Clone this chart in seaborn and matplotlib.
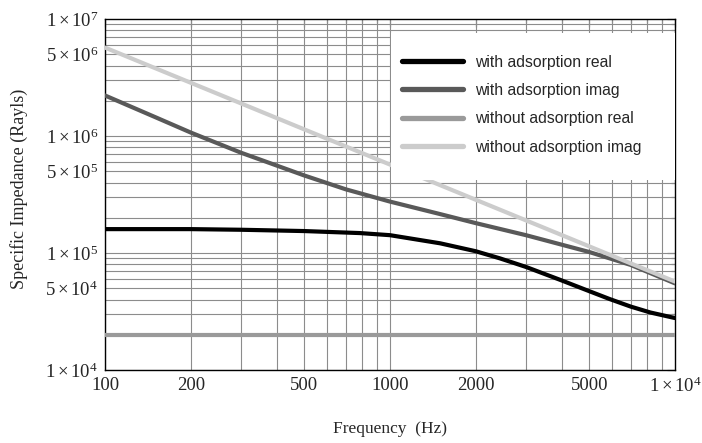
import numpy as np
import pandas as pd
import matplotlib
matplotlib.use('Agg')
import matplotlib.pyplot as plt
from matplotlib.patches import Rectangle
from matplotlib.lines import Line2D
import seaborn as sns

# values
freq_real_ads = [100, 200, 300, 500, 785, 1000, 1500, 2000, 2430, 3000, 3950, 5000, 5900, 7000, 8200, 10000]
z_real_ads = [1.60e5, 1.60e5, 1.58e5, 1.54e5, 1.48e5, 1.42e5, 1.21e5, 1.035e5, 9.0e4, 7.6e4, 5.9e4,
              4.72e4, 4.04e4, 3.48e4, 3.10e4, 2.78e4]
freq_imag_ads = [100, 150, 200, 300, 500, 700, 1000, 1500, 2000, 3000, 5000, 7000, 10000]
z_imag_ads = [2.22e6, 1.45e6, 1.07e6, 7.2e5, 4.6e5, 3.5e5, 2.75e5, 2.15e5, 1.8e5, 1.42e5, 1.02e5, 7.9e4, 5.5e4]
freq_real_free = [100, 10000]
z_real_free = [2.0e4, 2.0e4]
freq_imag_free = [100, 1000, 10000]
z_imag_free = [5.7e6, 5.7e5, 5.7e4]

series_names = ['with adsorption real', 'with adsorption imag',
                'without adsorption real', 'without adsorption imag']
series_colors = ['#000000', '#595959', '#9a9a9a', '#cccccc']

xtick_vals = [100, 200, 500, 1000, 2000, 5000, 10000]
xtick_labels = ['100', '200', '500', '1000', '2000', '5000', r'$1\times10^{4}$']
ytick_vals = [1e4, 5e4, 1e5, 5e5, 1e6, 5e6, 1e7]
ytick_labels = [r'$1\times10^{4}$', r'$5\times10^{4}$', r'$1\times10^{5}$', r'$5\times10^{5}$',
                r'$1\times10^{6}$', r'$5\times10^{6}$', r'$1\times10^{7}$']

df = pd.concat([
    pd.DataFrame({'freq': freq_real_ads, 'Z': z_real_ads, 'series': series_names[0]}),
    pd.DataFrame({'freq': freq_imag_ads, 'Z': z_imag_ads, 'series': series_names[1]}),
    pd.DataFrame({'freq': freq_real_free, 'Z': z_real_free, 'series': series_names[2]}),
    pd.DataFrame({'freq': freq_imag_free, 'Z': z_imag_free, 'series': series_names[3]}),
])

sns.set_style('white')
plt.rcParams['font.family'] = ['Liberation Serif', 'DejaVu Serif']
plt.rcParams['mathtext.fontset'] = 'custom'
plt.rcParams['mathtext.rm'] = 'Liberation Serif'
plt.rcParams['mathtext.it'] = 'Liberation Serif:italic'

fig = plt.figure(figsize=(7.02, 4.43), dpi=100)
ax = fig.add_axes([105 / 702, 1 - 370 / 443, 570 / 702, 351 / 443])

sns.lineplot(data=df, x='freq', y='Z', hue='series', hue_order=series_names,
             palette=series_colors, lw=3, legend=False, ax=ax, zorder=3)

ax.set_xscale('log')
ax.set_yscale('log')
ax.set_xlim(100, 10000)
ax.set_ylim(1e4, 1e7)

# grid on every 1..9 x 10^k
xgrid = [m * 10 ** k for k in (2, 3) for m in range(1, 10)]
ygrid = [m * 10 ** k for k in (4, 5, 6) for m in range(1, 10)]
for g in xgrid:
    ax.axvline(g, color='#8c8c8c', lw=0.8, zorder=1)
for g in ygrid:
    ax.axhline(g, color='#8c8c8c', lw=0.8, zorder=1)

ax.set_xticks(xtick_vals)
ax.set_xticklabels(xtick_labels)
ax.set_yticks(ytick_vals)
ax.set_yticklabels(ytick_labels)
ax.xaxis.set_minor_locator(matplotlib.ticker.FixedLocator(xgrid))
ax.yaxis.set_minor_locator(matplotlib.ticker.FixedLocator(ygrid))
ax.xaxis.set_minor_formatter(matplotlib.ticker.NullFormatter())
ax.yaxis.set_minor_formatter(matplotlib.ticker.NullFormatter())
ax.tick_params(which='both', direction='in', top=True, right=True, labelsize=13.5, color='black')
ax.tick_params(which='major', length=6, width=0.8, pad=5)
ax.tick_params(which='minor', length=3, width=0.8)
for s in ax.spines.values():
    s.set_color('black')
    s.set_linewidth(1.0)

ax.set_xlabel('Frequency  (Hz)', fontsize=12.5)
ax.set_ylabel('Specific Impedance (Rayls)', fontsize=13)
ax.xaxis.set_label_coords(0.5, -0.145)
ax.yaxis.set_label_coords(-0.135, 0.516)

# white legend box
ax.add_patch(Rectangle((0.502, 0.541), 0.498, 0.419, transform=ax.transAxes,
                       facecolor='white', edgecolor='none', zorder=4))
handles = [Line2D([], [], color=c, lw=3.8) for c in series_colors]
leg = ax.legend(handles, series_names, loc='upper left', bbox_to_anchor=(0.502, 0.93),
                frameon=False, borderpad=0.7, borderaxespad=0, handlelength=3.9,
                handletextpad=0.76, labelspacing=0.85,
                prop={'family': 'Liberation Sans', 'size': 11.3})
leg.set_zorder(5)

fig.savefig('out.png', dpi=100)
